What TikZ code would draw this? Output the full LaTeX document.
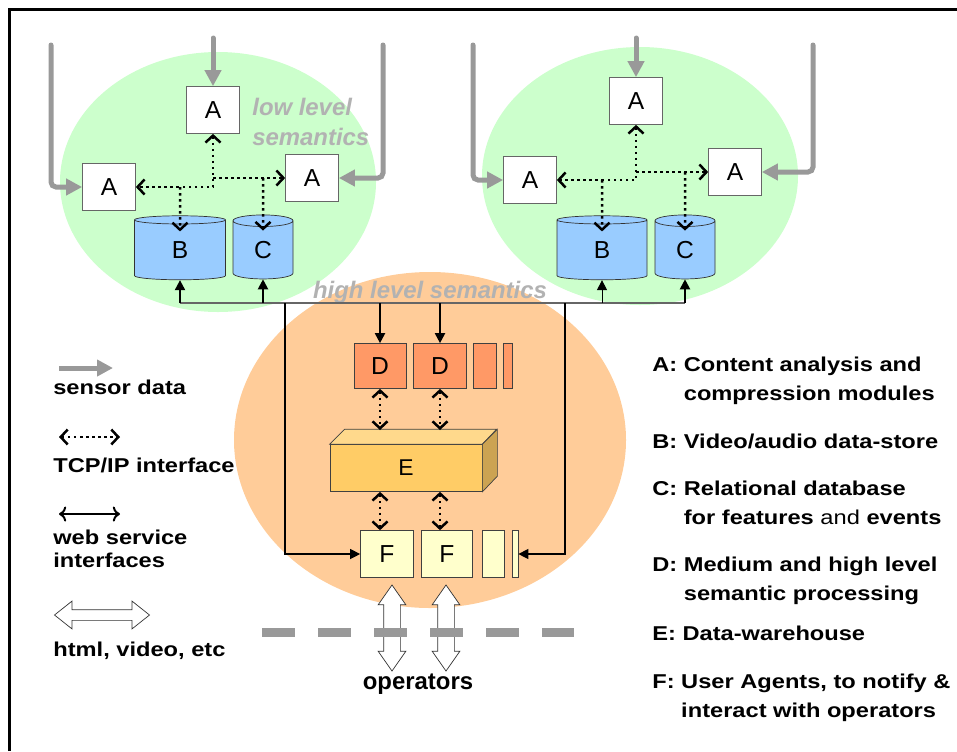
\documentclass[tikz,border=0pt]{standalone}
\usepackage{xcolor}
\usepackage{fontspec}
\setmainfont{Liberation Sans}
\newfontfamily\legendfont[FakeStretch=1.18]{Liberation Sans}
\usepackage{tikz}
\usetikzlibrary{shapes, arrows.meta, positioning}
\definecolor{lowgreen}{HTML}{CCFFCC}
\definecolor{highorange}{HTML}{FFCC99}
\definecolor{storeblue}{HTML}{99CCFF}
\definecolor{procorange}{HTML}{FF9966}
\definecolor{agentyellow}{HTML}{FFFFCC}
\definecolor{wfront}{HTML}{FFCC66}
\definecolor{wtop}{HTML}{FFD98C}
\definecolor{wside}{HTML}{CCA352}
\definecolor{sensorgray}{HTML}{999999}
\definecolor{semgray}{HTML}{B2B2B2}

\begin{document}
\begin{tikzpicture}
  [
    x=0.2mm, y=-0.2mm,
    Module/.style={rectangle, draw=black!60, fill=white, minimum width=10.6mm, minimum height=9.4mm, inner sep=0pt, font=\fontsize{14}{16}\selectfont},
    Store/.style={cylinder, shape border rotate=90, draw=black!80, fill=storeblue, minimum height=12.8mm, inner sep=0pt, font=\fontsize{14}{16}\selectfont},
    Proc/.style={rectangle, draw=black!75, fill=procorange, minimum height=9mm, inner sep=0pt, font=\fontsize{14}{16}\selectfont},
    Agent/.style={rectangle, draw=black!75, fill=agentyellow, minimum height=9.4mm, inner sep=0pt, font=\fontsize{14}{16}\selectfont},
    Sensor/.style={draw=sensorgray, line width=1mm, line cap=round, rounded corners=1mm, -{Triangle[width=3.2mm,length=3.2mm]}},
    Tcp/.style={draw=black, line width=0.5mm, dotted, >={Straight Barb[length=1.4mm,width=3mm]}},
    Web/.style={draw=black, line width=0.4mm, -{Triangle[width=2mm,length=2mm]}},
    Html/.style={double arrow, draw=black!80, fill=white, inner xsep=0pt},
    Legend/.style={font=\legendfont\bfseries\fontsize{11.4}{16.5}\selectfont, align=left, anchor=west, inner sep=0pt},
    Semantics/.style={text=semgray, font=\bfseries\itshape\fontsize{13.6}{17}\selectfont, inner sep=0pt}
  ]
  \useasboundingbox (0,0) rectangle (957,751);
  % Frame
  \draw[line width=0.6mm] (9,751) -- (9,9) -- (957,9);
  % Clouds
  \fill[lowgreen] (218,182) ellipse [x radius=31.6mm, y radius=26mm];
  \fill[lowgreen] (640,176) ellipse [x radius=31.6mm, y radius=25.8mm];
  \fill[highorange] (430,440) ellipse [x radius=39.2mm, y radius=33.6mm];
  % Nodes
  \node[Module] (aT1) at (213,110) {A};
  \node[Module] (aL1) at (109,187) {A};
  \node[Module] (aR1) at (312,178) {A};
  \node[Store, minimum width=18.2mm, aspect=0.5] (B1) at (180,250) {B};
  \node[Store, minimum width=12mm, aspect=0.65] (C1) at (263,250) {C};
  \node[Module] (aT2) at (636,101) {A};
  \node[Module] (aL2) at (530,180) {A};
  \node[Module] (aR2) at (735,172) {A};
  \node[Store, minimum width=18mm, aspect=0.5] (B2) at (602,250) {B};
  \node[Store, minimum width=12mm, aspect=0.65] (C2) at (685,250) {C};
  \node[Proc, minimum width=10.4mm] (D1) at (380,366) {D};
  \node[Proc, minimum width=10.6mm] (D2) at (440,366) {D};
  \node[Proc, minimum width=4.6mm] (Dbar1) at (485,366) {};
  \node[Proc, minimum width=1.8mm] (Dbar2) at (508,366) {};
  \node[rectangle, draw=black!75, fill=wfront, minimum width=30.4mm, minimum height=9.4mm, font=\fontsize{13}{15}\selectfont] (E) at (406,468) {E};
  \path[draw=black!75, fill=wtop] (E.north west) -- ++(15,-15) -- ++(152,0) -- (E.north east) -- cycle;
  \path[draw=black!75, fill=wside] (E.north east) -- ++(15,-15) -- ++(0,47) -- (E.south east) -- cycle;
  \node[Agent, minimum width=10.6mm] (F1) at (387,554) {F};
  \node[Agent, minimum width=10.2mm] (F2) at (447,554) {F};
  \node[Agent, minimum width=4.4mm] (Fbar1) at (493,554) {};
  \node[Agent, minimum width=1.2mm] (Fbar2) at (515,554) {};
  \node[Html, rotate=90, minimum height=17.2mm, inner ysep=1.6mm, double arrow head extend=1.1mm, double arrow tip angle=70] (h1) at (392,628) {};
  \node[Html, rotate=90, minimum height=17.2mm, inner ysep=1.6mm, double arrow head extend=1.1mm, double arrow tip angle=70] (h2) at (446,628) {};
  \node[font=\bfseries\fontsize{13.6}{16}\selectfont] (ops) at (418,684) {operators};
  \node[Semantics, align=left, anchor=west, font=\bfseries\itshape\fontsize{13.6}{17.5}\selectfont] (lowsem) at (252,122) {low level\\semantics};
  \node[Semantics] (highsem) at (430,292) {high level semantics};
  % Coordinates
  \coordinate (s1) at (51,45);
  \coordinate (s2) at (213,38);
  \coordinate (s3) at (383,45);
  \coordinate (s4) at (473,45);
  \coordinate (s5) at (636,38);
  \coordinate (s6) at (813,45);
  \coordinate (bus) at (0,303);
  \coordinate (busL) at (285,303);
  \coordinate (busR) at (565,303);
  \coordinate (Etop) at (0,430);
  % Lines
  \path[Sensor] (s1) |- (aL1);
  \path[Sensor] (s2) -- (aT1);
  \path[Sensor] (s3) |- (aR1);
  \path[Sensor] (s4) |- (aL2);
  \path[Sensor] (s5) -- (aT2);
  \path[Sensor] (s6) |- (aR2);
  \path[Tcp, <->] (aT1) |- (aL1);
  \path[Tcp, ->] (aT1 |- aR1) -- (aR1);
  \path[Tcp, ->] (B1 |- aL1) -- ([yshift=-3.2mm]B1.north);
  \path[Tcp, ->] (C1 |- aR1) -- ([yshift=-3.2mm]C1.north);
  \path[Tcp, <->] (aT2) |- (aL2);
  \path[Tcp, ->] (aT2 |- aR2) -- (aR2);
  \path[Tcp, ->] (B2 |- aL2) -- ([yshift=-3.2mm]B2.north);
  \path[Tcp, ->] (C2 |- aR2) -- ([yshift=-3.2mm]C2.north);
  \path[draw=black!60, line width=0.3mm] (B1 |- bus) -- (C2 |- bus);
  \path[Web] (B1 |- bus) -- (B1);
  \path[Web] (C1 |- bus) -- (C1);
  \path[Web, line width=0.2mm] (B2 |- bus) -- (B2);
  \path[Web] (C2 |- bus) -- (C2);
  \path[Web] (D1 |- bus) -- (D1);
  \path[Web] (D2 |- bus) -- (D2);
  \path[Web, line width=0.25mm] (busL) |- (F1);
  \path[Web, line width=0.25mm] (busR) |- (Fbar2);
  \path[Tcp, <->] (D1) -- (D1 |- Etop);
  \path[Tcp, <->] (D2) -- (D2 |- Etop);
  \path[Tcp, <->] (D1 |- E.south) -- (D1 |- F1.north);
  \path[Tcp, <->] (D2 |- E.south) -- (D2 |- F2.north);
  \path[draw=sensorgray, line width=1.8mm, dash pattern=on 6.6mm off 4.6mm] (262,632) -- (574,632);
  % Legend
  \coordinate (lg1a) at (59,368);
  \coordinate (lg1b) at (113,368);
  \coordinate (lg2a) at (59,437);
  \coordinate (lg2b) at (120,437);
  \coordinate (lg3a) at (59,514);
  \coordinate (lg3b) at (120,514);
  \path[Sensor, line cap=butt] (lg1a) -- (lg1b);
  \path[Tcp, <->] (lg2a) -- (lg2b);
  \path[Web, <->] (lg3a) -- (lg3b);
  \node[Html, minimum height=19mm, inner ysep=1mm, double arrow head extend=1.7mm, double arrow tip angle=77] (lg4) at (102,615) {};
  \node[Legend] (lsensor) at (53,387) {sensor data};
  \node[Legend] (ltcp) at (53,465) {TCP/IP interface};
  \node[Legend, font=\legendfont\bfseries\fontsize{11.4}{13.2}\selectfont] (lweb) at (53,549) {web service\\interfaces};
  \node[Legend] (lhtml) at (53,651) {html, video, etc};
  \node[Legend] (keyA) at (652,381) {A: Content analysis and\\\phantom{A: }compression modules};
  \node[Legend] (keyB) at (652,441) {B: Video/audio data-store};
  \node[Legend] (keyC) at (652,503) {C: Relational database\\\phantom{C: }for features {\mdseries and} events};
  \node[Legend] (keyD) at (652,581) {D: Medium and high level\\\phantom{D: }semantic processing};
  \node[Legend] (keyE) at (652,633) {E: Data-warehouse};
  \node[Legend] (keyF) at (652,698) {F: User Agents, to notify \&\\\phantom{F: }interact with operators};
\end{tikzpicture}
\end{document}
